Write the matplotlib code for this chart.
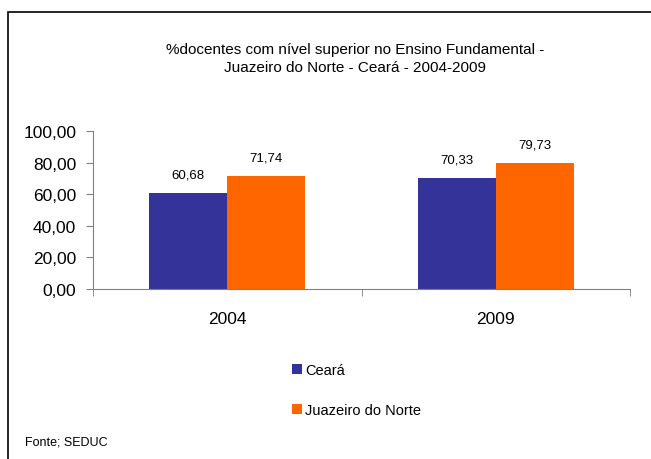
import matplotlib.pyplot as plt
from matplotlib.patches import Rectangle

plt.rcParams['font.family'] = ['Liberation Sans', 'DejaVu Sans']

anos = ['2004', '2009']
ceara = [60.68, 70.33]
juazeiro = [71.74, 79.73]
series_nomes = ['Ceará', 'Juazeiro do Norte']
cores = ['#333399', '#FF6600']
titulo = '%docentes com nível superior no Ensino Fundamental -\nJuazeiro do Norte - Ceará - 2004-2009'

fig = plt.figure(figsize=(6.51, 4.60), dpi=100)

# moldura (só lados esquerdo e superior visíveis)
fig.add_artist(Rectangle((8 / 651, -0.1), 1.2, (460 - 13) / 460 + 0.1,
                         transform=fig.transFigure, fill=False,
                         edgecolor='black', linewidth=1.2))

ax = fig.add_axes([93 / 651, 170 / 460, 537 / 651, 158 / 460])
x = range(len(anos))
w = 0.29
b1 = ax.bar([i - w / 2 for i in x], ceara, w, color=cores[0], label=series_nomes[0])
b2 = ax.bar([i + w / 2 for i in x], juazeiro, w, color=cores[1], label=series_nomes[1])

for bars, vals in ((b1, ceara), (b2, juazeiro)):
    for r, v in zip(bars, vals):
        ax.text(r.get_x() + r.get_width() / 2, v + 8, f'{v:.2f}'.replace('.', ','),
                ha='center', va='bottom', fontsize=9.5)

ax.set_xlim(-0.5, 1.5)
ax.set_ylim(0, 100)
ax.set_yticks([0, 20, 40, 60, 80, 100])
ax.set_yticklabels([f'{v:.2f}'.replace('.', ',') for v in [0, 20, 40, 60, 80, 100]], fontsize=12.5)
ax.set_xticks([0, 1])
ax.set_xticklabels(anos, fontsize=12.5)
ax.set_xticks([-0.5, 0.5, 1.5], minor=True)
ax.tick_params(axis='x', which='major', length=0, pad=16)
ax.tick_params(axis='x', which='minor', length=5, color='#808080')
ax.tick_params(axis='y', length=5, color='#808080', pad=7)
for s in ['top', 'right']:
    ax.spines[s].set_visible(False)
ax.spines['left'].set_color('#808080')
ax.spines['bottom'].set_color('#808080')

fig.text(0.545, 1 - 59 / 460, titulo, ha='center', va='center', fontsize=11, linespacing=1.45)

fig.legend(handles=[b1, b2], loc='upper left', bbox_to_anchor=(279 / 651, 1 - 351 / 460),
           frameon=False, fontsize=10.5, handlelength=0.7, handleheight=0.7,
           handletextpad=0.2, labelspacing=1.8)

fig.text(25 / 651, 1 - 443 / 460, 'Fonte; SEDUC', fontsize=9, va='center')

fig.savefig('out.png', dpi=100)
